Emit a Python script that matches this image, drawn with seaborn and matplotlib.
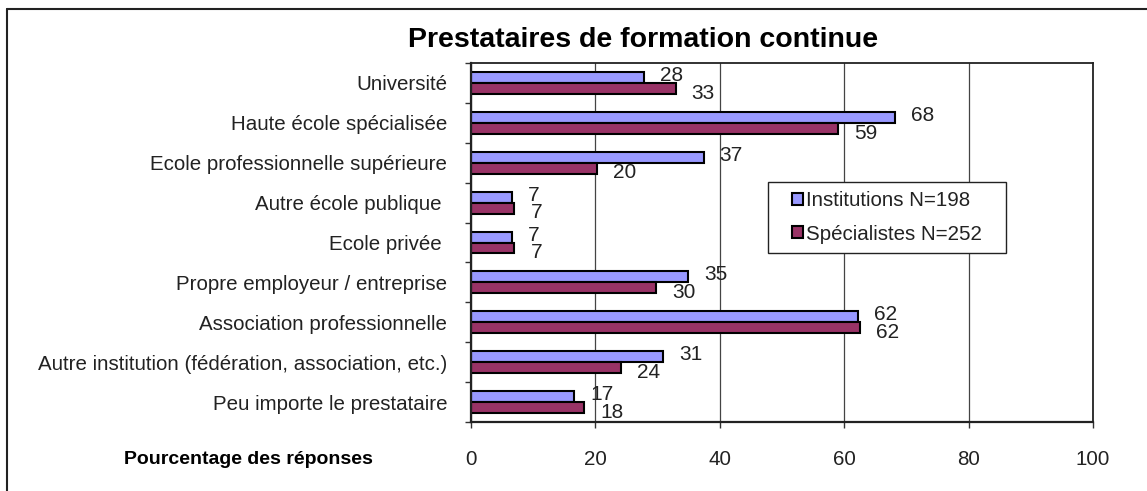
import numpy as np
import pandas as pd
import matplotlib
matplotlib.use('Agg')
import matplotlib.pyplot as plt
import seaborn as sns
from matplotlib.patches import Patch, Rectangle
from matplotlib.lines import Line2D

# données (% des réponses)
categories = [
    'Université',
    'Haute école spécialisée',
    'Ecole professionnelle supérieure',
    'Autre école publique ',
    'Ecole privée ',
    'Propre employeur / entreprise',
    'Association professionnelle',
    'Autre institution (fédération, association, etc.)',
    'Peu importe le prestataire',
]
institutions = [27.8, 68.1, 37.4, 6.6, 6.6, 34.9, 62.3, 30.9, 16.6]
specialistes = [32.9, 59.0, 20.2, 7.0, 7.0, 29.8, 62.5, 24.2, 18.2]
series = ['Institutions N=198', 'Spécialistes N=252']
colors = ['#9999FF', '#993366']
x_ticks = [0, 20, 40, 60, 80, 100]

sns.set_theme(style='white')
plt.rcParams['font.family'] = ['Liberation Sans', 'DejaVu Sans']
plt.rcParams['text.color'] = '#222222'

df = pd.DataFrame({
    'categorie': categories * 2,
    'valeur': institutions + specialistes,
    'serie': [series[0]] * len(categories) + [series[1]] * len(categories),
})

fig = plt.figure(figsize=(11.47, 4.91), dpi=100)
ax = fig.add_axes([0.4106, 0.1405, 0.5423, 0.7312])

sns.barplot(data=df, x='valeur', y='categorie', hue='serie', order=categories,
            hue_order=series, palette=colors, orient='h', width=0.55, gap=0,
            edgecolor='black', linewidth=1.5, saturation=1, legend=False, ax=ax)

ax.set_xlim(0, 100)
ax.set_ylim(len(categories) - 0.5, -0.5)
ax.set_xticks(x_ticks)
ax.set_xticklabels([str(t) for t in x_ticks])
ax.set_yticks(range(len(categories)))
ax.set_yticklabels(categories)
ax.set_yticks(np.arange(-0.5, len(categories)), minor=True)
ax.set_xlabel('')
ax.set_ylabel('')

ax.tick_params(axis='y', which='major', length=0, pad=17, labelsize=14.8, labelcolor='#222222')
ax.tick_params(axis='y', which='minor', left=True, length=4.3, width=1, color='#333333')
ax.tick_params(axis='x', which='major', bottom=True, direction='out', length=4.3, width=1,
               color='#333333', pad=16, labelsize=14.8, labelcolor='#222222')

for sp in ax.spines.values():
    sp.set_visible(True)
    sp.set_color('#222222')
    sp.set_linewidth(1.3)
ax.spines['left'].set_linewidth(1.6)
ax.spines['bottom'].set_linewidth(1.6)

ax.set_axisbelow(True)
ax.grid(axis='x', color='#444444', linewidth=0.9)
ax.grid(axis='y', visible=False)

# étiquettes de valeurs
offsets = [(11.5, 1.4), (11.5, -3.4)]
for cont, vals, (dx, dy) in zip(ax.containers, [institutions, specialistes], offsets):
    for bar, v in zip(cont, vals):
        yc = bar.get_y() + bar.get_height() / 2
        ax.annotate(f'{v:.0f}', xy=(v, yc), xytext=(dx, dy), textcoords='offset points',
                    ha='left', va='center', fontsize=15, color='#222222')

# légende avec cadre
ax.add_patch(Rectangle((0.4775, 0.4708), 0.3825, 0.1977, transform=ax.transAxes,
                       facecolor='white', edgecolor='#222222', linewidth=1, zorder=4.5))
handles = [Patch(facecolor=c, edgecolor='black', linewidth=1.5) for c in colors]
leg = ax.legend(handles, series, loc='center', bbox_to_anchor=(0.669, 0.57),
                frameon=False, fontsize=14.8, handlelength=0.55, handleheight=0.55,
                handletextpad=0.15, labelspacing=0.7, borderpad=0)
leg.set_zorder(5)

fig.text(0.5606, 0.9185, 'Prestataires de formation continue', ha='center', va='center',
         fontsize=20.5, fontweight='bold', color='black')
fig.text(0.217, 0.065, 'Pourcentage des réponses', ha='center', va='center',
         fontsize=14, fontweight='bold', color='black')

# cadre extérieur
fig.add_artist(Line2D([7 / 1147, 1.0], [1 - 9 / 491, 1 - 9 / 491], transform=fig.transFigure,
                      color='#222222', linewidth=1.5))
fig.add_artist(Line2D([7 / 1147, 7 / 1147], [0.0, 1 - 9 / 491], transform=fig.transFigure,
                      color='#222222', linewidth=1.5))

fig.savefig('out.png', dpi=100)
